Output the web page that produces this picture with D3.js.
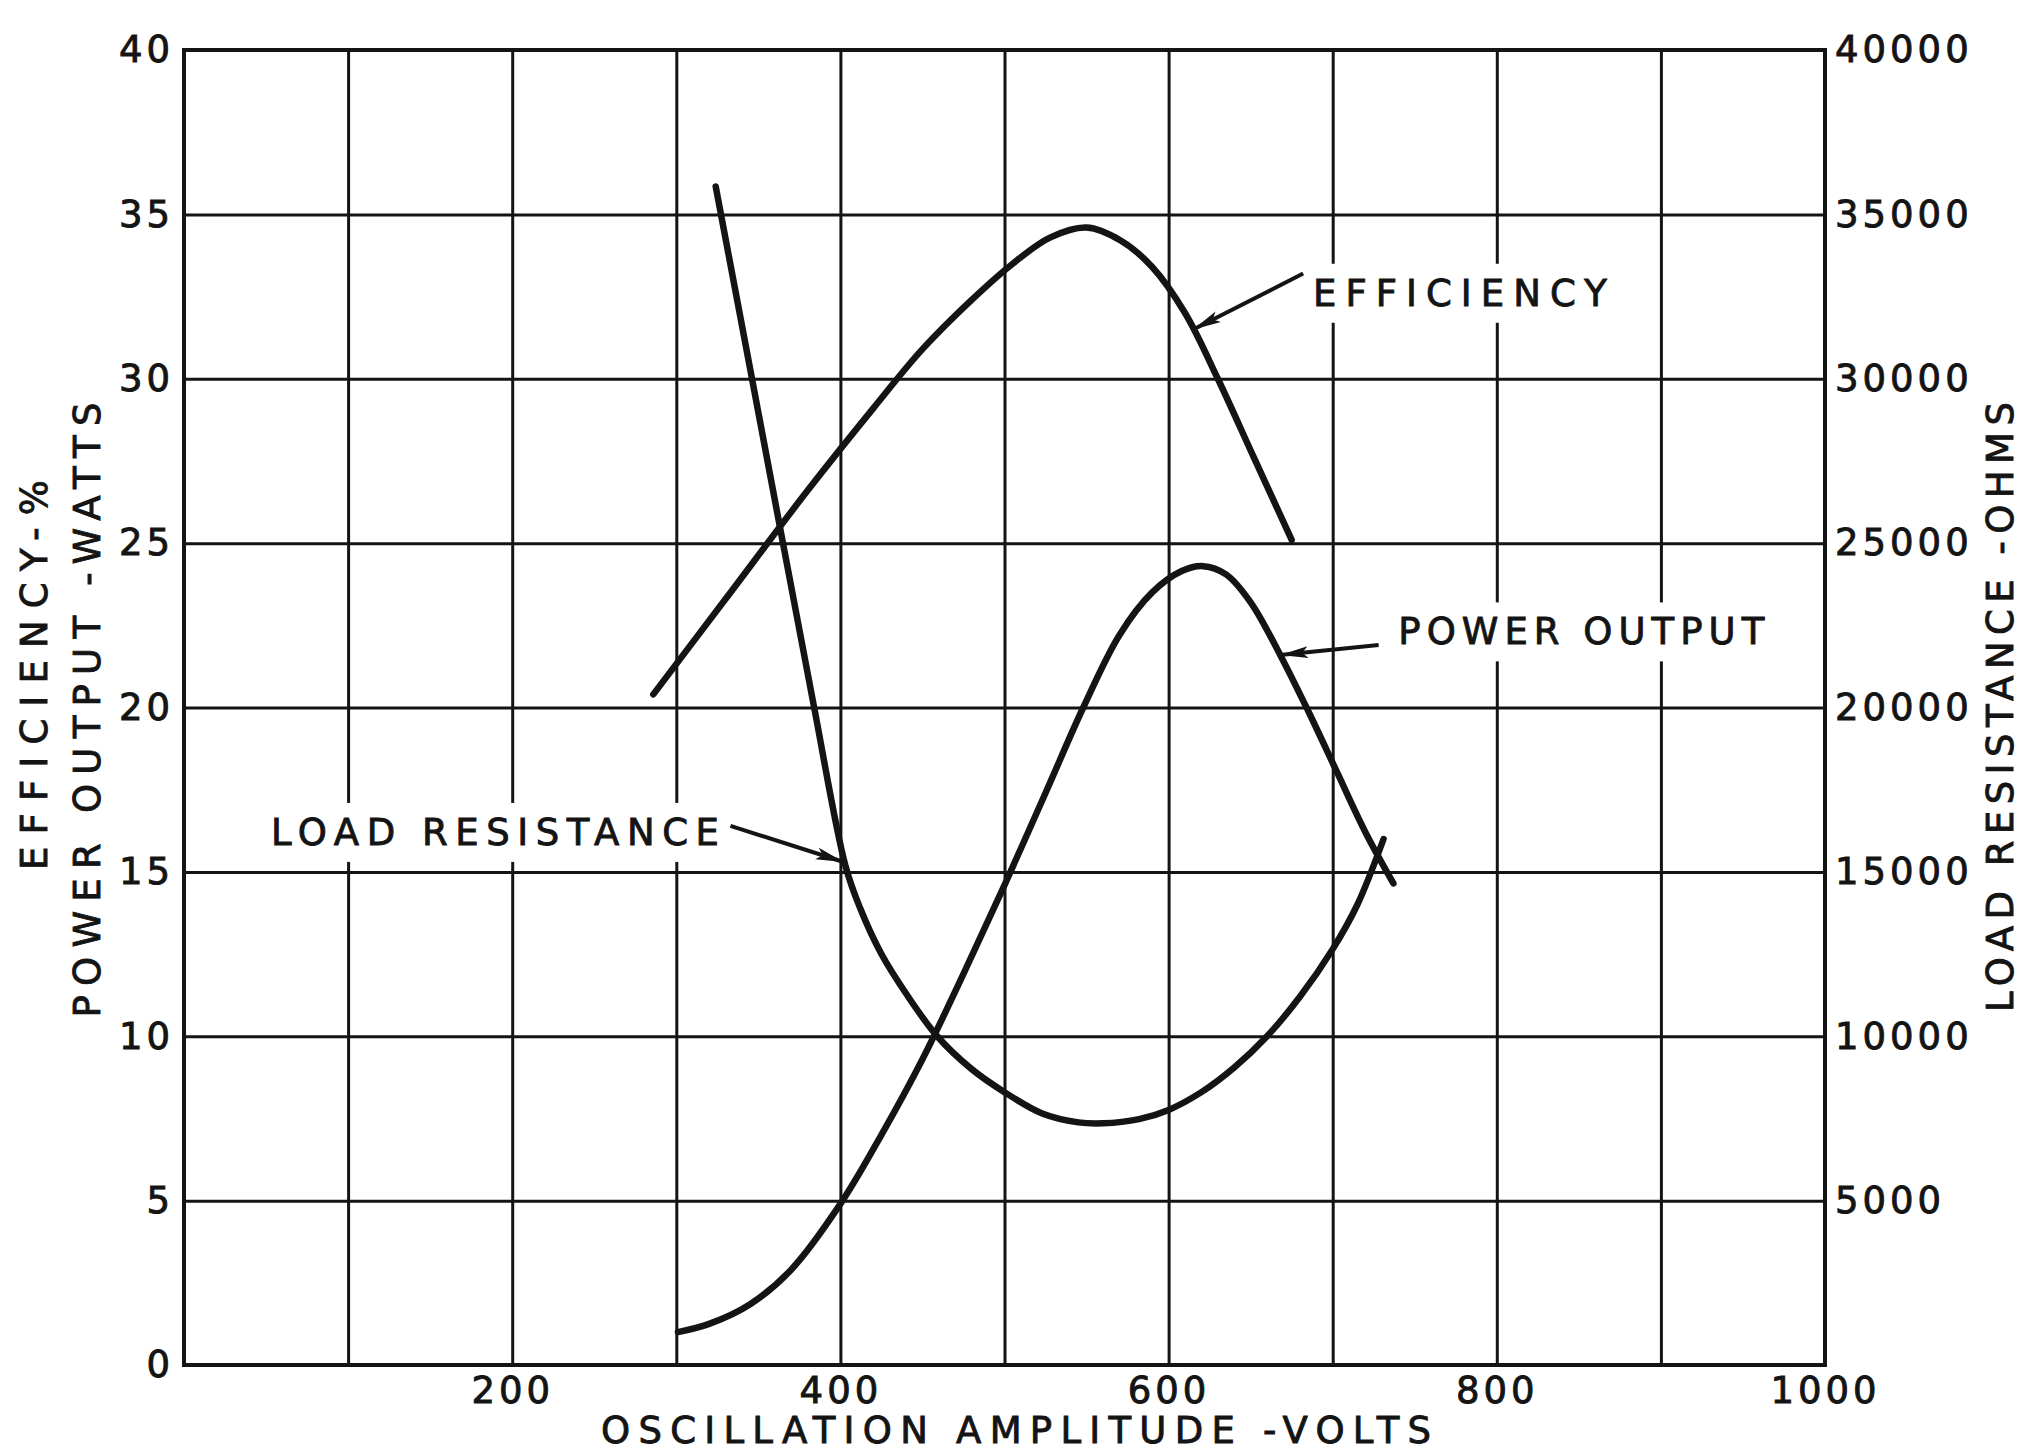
<!DOCTYPE html>
<html lang="en">
	<head>
		<meta charset="utf-8">
		<script type="text/javascript" src="https://d3js.org/d3.v7.min.js"></script>
		<style type="text/css">
			body { margin: 0; background: #fff; }
		</style>
	</head>
	<body>
		<script type="text/javascript">

			//Width and height
			var w = 2024;
			var h = 1452;
			var plotLeft = 184, plotRight = 1825, plotTop = 50, plotBottom = 1365;

			//Tick values and labels
			var voltTicks = [0, 100, 200, 300, 400, 500, 600, 700, 800, 900, 1000];
			var voltLabels = [200, 400, 600, 800, 1000];
			var leftTicks = [0, 5, 10, 15, 20, 25, 30, 35, 40];
			var rightTicks = [5000, 10000, 15000, 20000, 25000, 30000, 35000, 40000];

			//Efficiency (%) vs oscillation amplitude
			var effVolts = [286, 330, 380, 420, 450, 480, 505, 528, 550, 571, 590, 610, 630, 652, 675];
			var effPct   = [20.4, 23.3, 26.6, 29.1, 30.9, 32.4, 33.5, 34.3, 34.6, 34.2, 33.4, 32.0, 30.0, 27.6, 25.1];

			//Power output (watts)
			var powVolts = [301, 320, 345, 370, 400, 425, 450, 475, 500, 525, 548, 570, 590, 608, 621, 635, 650, 668, 685, 702, 720, 737];
			var powWatts = [1.0, 1.25, 1.85, 2.9, 4.9, 7.0, 9.3, 11.9, 14.6, 17.4, 20, 22.2, 23.5, 24.15, 24.3, 24.05, 23.2, 21.6, 19.9, 18.1, 16.2, 14.65];

			//Load resistance (ohms)
			var loadVolts = [324, 345, 365, 384, 403, 412, 425, 440, 459, 480, 500, 523, 545, 560, 582, 600, 620, 640, 660, 680, 700, 715, 731];
			var loadOhms  = [35850, 30300, 25000, 20000, 15200, 13900, 12500, 11300, 10000, 9000, 8300, 7650, 7380, 7350, 7480, 7760, 8300, 9050, 10000, 11200, 12650, 14000, 16000];

			//Curve labels and their arrows (in data units, left axis)
			var noteText  = ["EFFICIENCY", "POWER OUTPUT", "LOAD RESISTANCE"];
			var noteStart = [688, 740, 53];
			var noteEnd   = [867, 963, 326];
			var noteLevel = [32.6, 22.3, 16.2];
			var arrowFrom = [[682, 33.2], [728, 21.9], [333, 16.4]];
			var arrowTo   = [[615, 31.5], [668, 21.6], [402, 15.3]];

			var font = "'DejaVu Sans', sans-serif";
			var ink = "#141414";

			//Scales
			var xScale = d3.scaleLinear().domain([0, 1000]).range([plotLeft, plotRight]);
			var yLeft = d3.scaleLinear().domain([0, 40]).range([plotBottom, plotTop]);
			var yRight = d3.scaleLinear().domain([0, 40000]).range([plotBottom, plotTop]);

			var svg = d3.select("body")
						.append("svg")
						.attr("width", w)
						.attr("height", h)
						.style("background", "#fff");

			svg.append("defs").append("marker")
				.attr("id", "head")
				.attr("viewBox", "0 0 28 14")
				.attr("refX", 28)
				.attr("refY", 7)
				.attr("markerWidth", 28)
				.attr("markerHeight", 14)
				.attr("markerUnits", "userSpaceOnUse")
				.attr("orient", "auto")
				.append("path")
				.attr("d", "M0,1 L28,7 L0,13 L6,7 Z")
				.attr("fill", ink);

			function letter(sel) {
				sel.attr("fill", ink)
					.attr("stroke", ink)
					.attr("stroke-width", 0.9)
					.attr("font-family", font)
					.attr("font-size", 37);
			}

			function styleAxis(g) {
				g.select(".domain").remove();
				g.selectAll(".tick line").attr("stroke", ink).attr("stroke-width", 3);
				g.selectAll(".tick text")
					.call(letter)
					.attr("letter-spacing", 4);
			}

			//Vertical grid + x labels
			svg.append("g")
				.attr("transform", "translate(0," + plotBottom + ")")
				.call(d3.axisBottom(xScale)
					.tickValues(voltTicks)
					.tickSize(-(plotBottom - plotTop))
					.tickPadding(12)
					.tickFormat(function(d) { return voltLabels.indexOf(d) >= 0 ? d : ""; }))
				.call(styleAxis);

			//Horizontal grid + left labels
			svg.append("g")
				.attr("transform", "translate(" + plotLeft + ",0)")
				.call(d3.axisLeft(yLeft)
					.tickValues(leftTicks)
					.tickSize(-(plotRight - plotLeft))
					.tickPadding(10))
				.call(styleAxis);

			//Right labels
			svg.append("g")
				.attr("transform", "translate(" + plotRight + ",0)")
				.call(d3.axisRight(yRight)
					.tickValues(rightTicks)
					.tickSize(0)
					.tickPadding(10)
					.tickFormat(d3.format("d")))
				.call(styleAxis);

			//Frame
			svg.append("rect")
				.attr("x", plotLeft)
				.attr("y", plotTop)
				.attr("width", plotRight - plotLeft)
				.attr("height", plotBottom - plotTop)
				.attr("fill", "none")
				.attr("stroke", ink)
				.attr("stroke-width", 4);

			//Curve labels with white backing that breaks the grid
			var notes = svg.append("g");
			noteText.forEach(function(t, i) {
				var txt = notes.append("text")
					.attr("x", xScale(noteStart[i]))
					.attr("y", yLeft(noteLevel[i]))
					.attr("dominant-baseline", "central")
					.call(letter)
					.attr("textLength", xScale(noteEnd[i]) - xScale(noteStart[i]))
					.attr("lengthAdjust", "spacing")
					.text(t);
				var bb = txt.node().getBBox();
				notes.insert("rect", "text")
					.attr("x", bb.x - 8)
					.attr("y", bb.y - 8)
					.attr("width", bb.width + 16)
					.attr("height", bb.height + 16)
					.attr("fill", "#fff");
				notes.append("line")
					.attr("x1", xScale(arrowFrom[i][0]))
					.attr("y1", yLeft(arrowFrom[i][1]))
					.attr("x2", xScale(arrowTo[i][0]))
					.attr("y2", yLeft(arrowTo[i][1]))
					.attr("stroke", ink)
					.attr("stroke-width", 4)
					.attr("marker-end", "url(#head)");
			});

			//Curves
			var curve = d3.curveCatmullRom.alpha(0.5);
			function drawCurve(xs, ys, yScale) {
				var pts = xs.map(function(v, i) { return [v, ys[i]]; });
				svg.append("path")
					.datum(pts)
					.attr("fill", "none")
					.attr("stroke", ink)
					.attr("stroke-width", 6.5)
					.attr("stroke-linecap", "round")
					.attr("stroke-linejoin", "round")
					.attr("d", d3.line()
						.x(function(d) { return xScale(d[0]); })
						.y(function(d) { return yScale(d[1]); })
						.curve(curve));
			}
			drawCurve(effVolts, effPct, yLeft);
			drawCurve(powVolts, powWatts, yLeft);
			drawCurve(loadVolts, loadOhms, yRight);

			//Axis titles
			svg.append("text")
				.attr("x", 1016)
				.attr("y", 1430)
				.attr("text-anchor", "middle")
				.attr("dominant-baseline", "central")
				.call(letter)
				.attr("textLength", 830)
				.attr("lengthAdjust", "spacing")
				.text("OSCILLATION AMPLITUDE -VOLTS");

			var sideTitles = [
				{ t: "EFFICIENCY-%", x: 34, y: 675, len: 390 },
				{ t: "POWER OUTPUT -WATTS", x: 87, y: 710, len: 615 },
				{ t: "LOAD RESISTANCE -OHMS", x: 2000, y: 707, len: 610 }
			];
			sideTitles.forEach(function(s) {
				svg.append("text")
					.attr("transform", "translate(" + s.x + "," + s.y + ") rotate(-90)")
					.attr("text-anchor", "middle")
					.attr("dominant-baseline", "central")
					.call(letter)
					.attr("textLength", s.len)
					.attr("lengthAdjust", "spacing")
					.text(s.t);
			});

		</script>
	</body>
</html>
